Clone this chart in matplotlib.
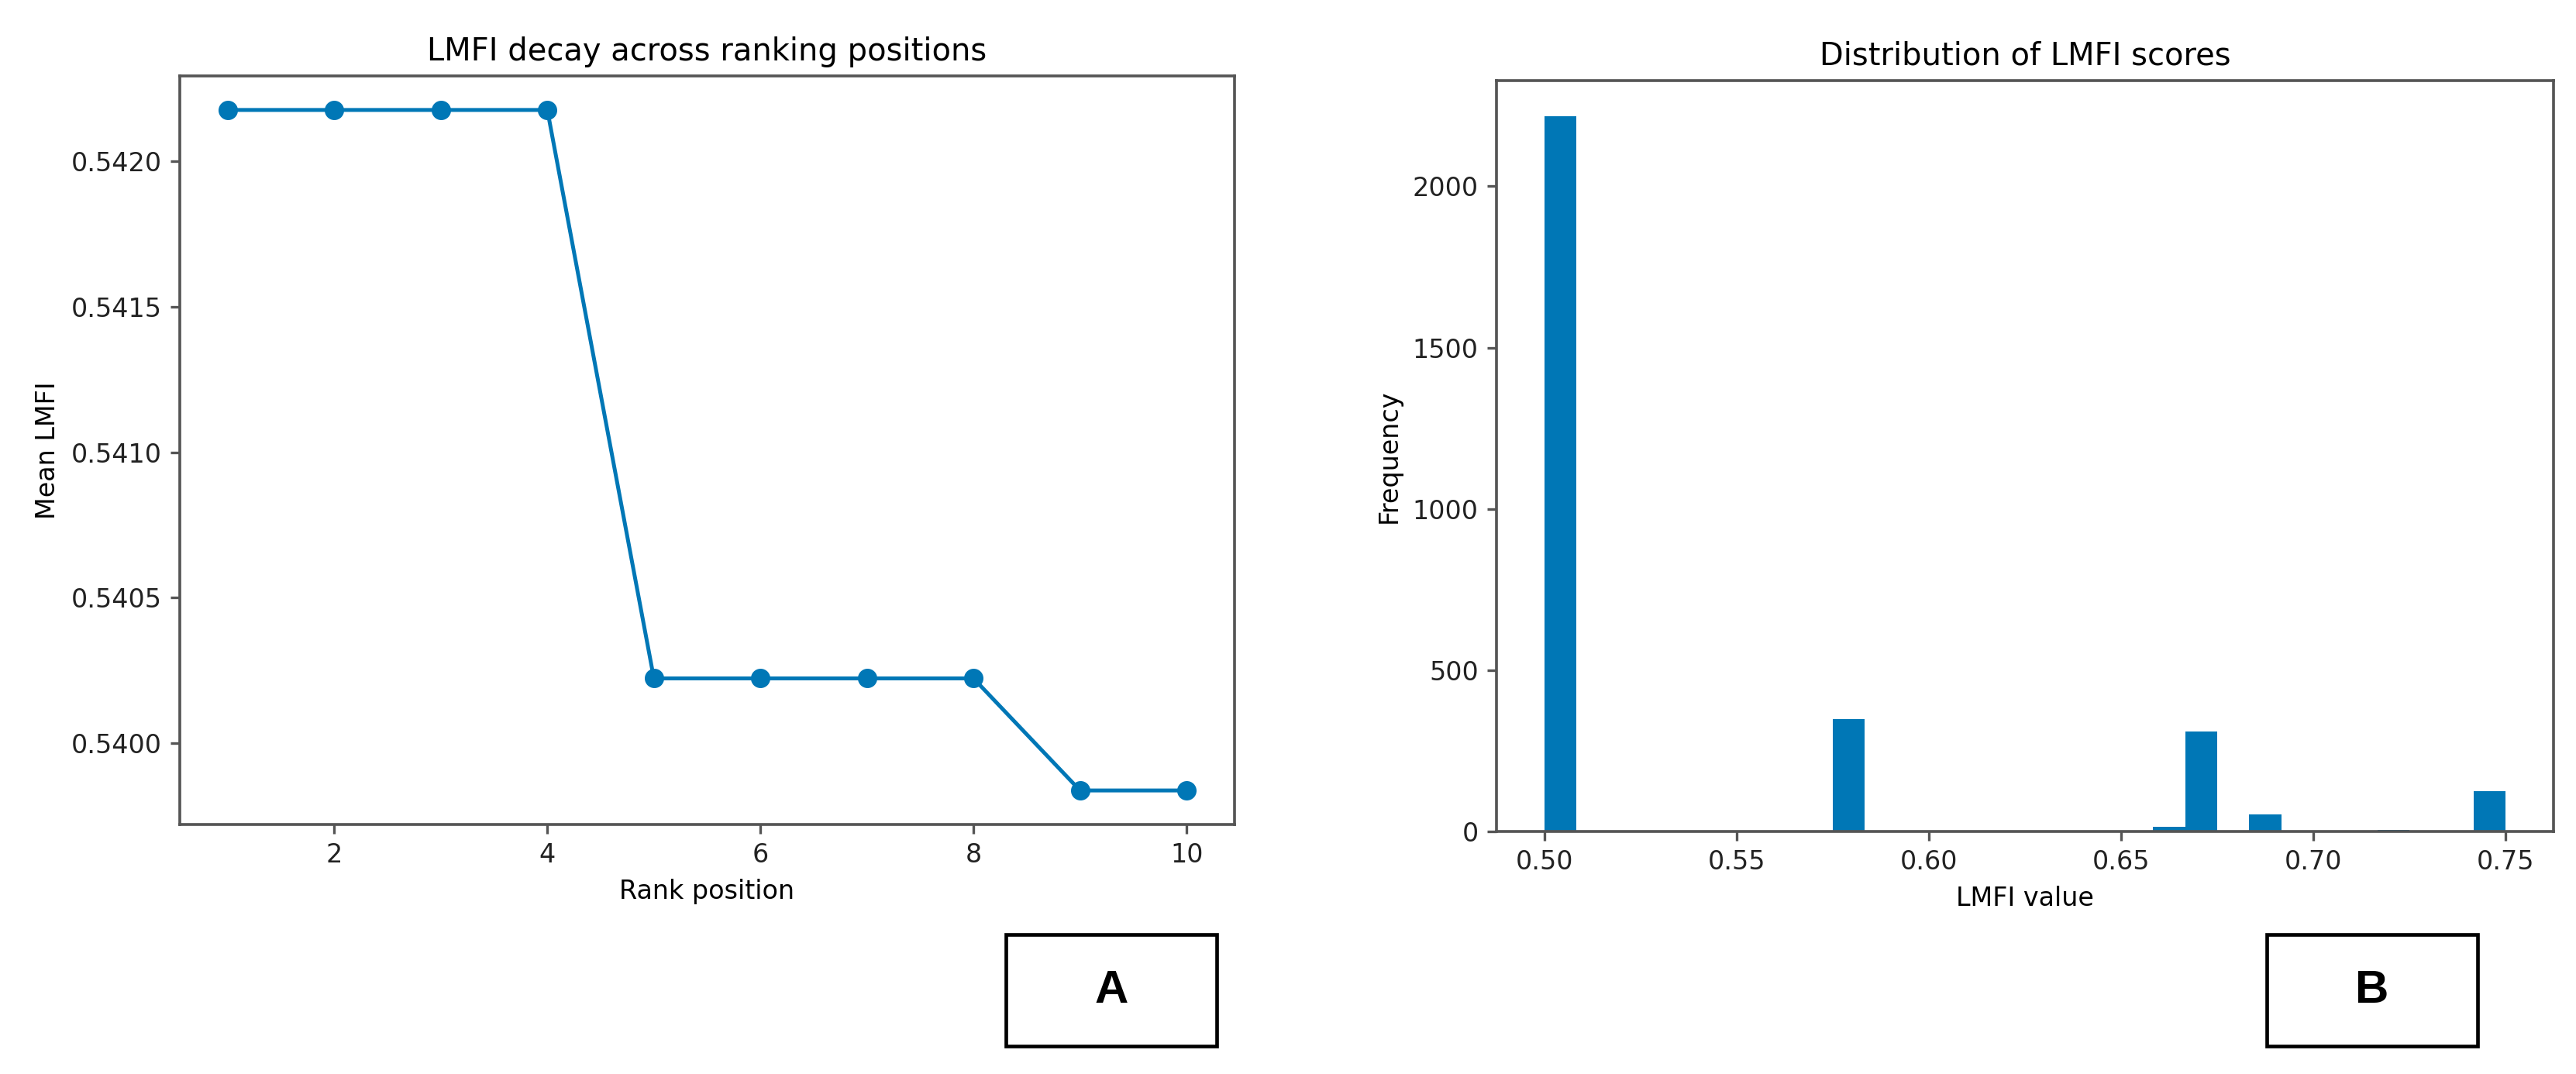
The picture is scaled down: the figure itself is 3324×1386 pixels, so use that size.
import matplotlib

matplotlib.use("Agg")
import matplotlib.pyplot as plt
from matplotlib.patches import Rectangle

# panel A: mean LMFI per rank position
rank_positions = [1, 2, 3, 4, 5, 6, 7, 8, 9, 10]
mean_lmfi = [0.542176, 0.542176, 0.542176, 0.542176, 0.540223,
             0.540223, 0.540223, 0.540223, 0.539838, 0.539838]

# panel B: LMFI score values and how often each occurs
lmfi_values = [0.500, 0.580, 0.6625, 0.670, 0.6875, 0.720, 0.745]
lmfi_counts = [2217, 349, 14, 310, 53, 5, 125]
hist_bins = 30
hist_range = (0.5, 0.75)

panel_labels = ["A", "B"]

BLUE = "#0077B6"
SPINE = "#555555"

W, H, DPI = 3324, 1386, 240
fig = plt.figure(figsize=(W / DPI, H / DPI), dpi=DPI)


def frac(x0, y0, x1, y1):
    return [x0 / W, 1 - y1 / H, (x1 - x0) / W, (y1 - y0) / H]


def style_axes(ax):
    for spine in ax.spines.values():
        spine.set_color(SPINE)
        spine.set_linewidth(1.1)
    ax.tick_params(colors="#222222", color=SPINE, width=1.0)


ax_a = fig.add_axes(frac(232, 98, 1593, 1064))
ax_a.plot(rank_positions, mean_lmfi, marker="o", color=BLUE, linewidth=1.5, markersize=6.5)
ax_a.set_title("LMFI decay across ranking positions", fontsize=12)
ax_a.set_xlabel("Rank position")
ax_a.set_ylabel("Mean LMFI")
ax_a.set_xticks([2, 4, 6, 8, 10])
ax_a.set_yticks([0.5400, 0.5405, 0.5410, 0.5415, 0.5420])
ax_a.ticklabel_format(axis="y", useOffset=False)
ax_a.yaxis.set_major_formatter(matplotlib.ticker.FormatStrFormatter("%.4f"))
style_axes(ax_a)

ax_b = fig.add_axes(frac(1931, 104, 3295, 1073))
ax_b.hist(lmfi_values, bins=hist_bins, range=hist_range, weights=lmfi_counts, color=BLUE)
ax_b.set_title("Distribution of LMFI scores", fontsize=12)
ax_b.set_xlabel("LMFI value")
ax_b.set_ylabel("Frequency")
ax_b.set_xticks([0.50, 0.55, 0.60, 0.65, 0.70, 0.75])
ax_b.xaxis.set_major_formatter(matplotlib.ticker.FormatStrFormatter("%.2f"))
style_axes(ax_b)

# boxed panel letters under each chart
for label, (x0, x1) in zip(panel_labels, [(1298, 1570), (2925, 3197)]):
    y0, y1 = 1206, 1350
    fig.patches.append(Rectangle((x0 / W, 1 - y1 / H), (x1 - x0) / W, (y1 - y0) / H,
                                 transform=fig.transFigure, fill=False,
                                 edgecolor="black", linewidth=1.4))
    fig.text((x0 + x1) / 2 / W, 1 - (y0 + y1) / 2 / H, label,
             ha="center", va="center", fontsize=18, fontweight="bold",
             family="Liberation Sans")

fig.savefig("out.png", dpi=DPI, facecolor="white")
